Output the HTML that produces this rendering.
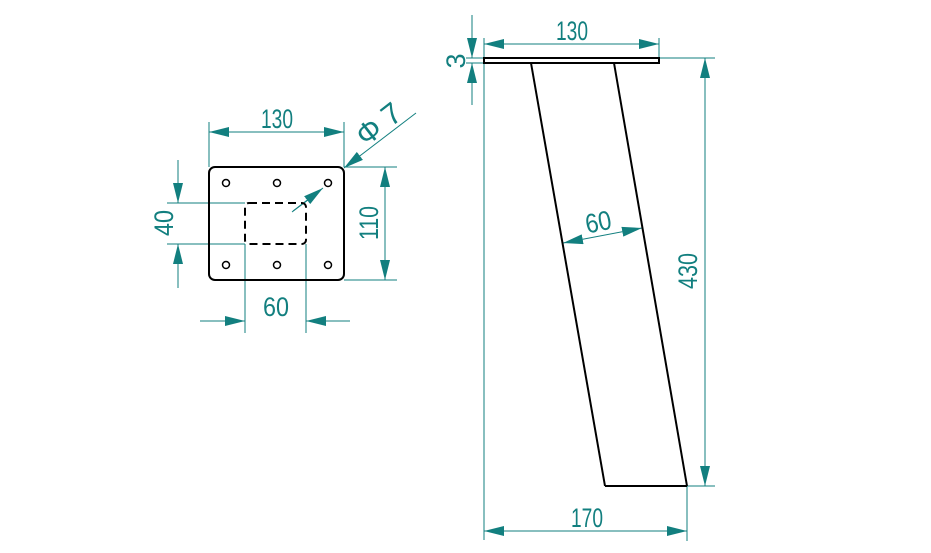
<!DOCTYPE html>
<html><head><meta charset="utf-8"><style>html,body{margin:0;padding:0;background:#fff}svg{display:block}</style></head><body>
<svg width="931" height="553" viewBox="0 0 931 553" xmlns="http://www.w3.org/2000/svg">
<defs>
<marker id="a" viewBox="0 0 20 10" refX="20" refY="5" markerWidth="20" markerHeight="10" markerUnits="userSpaceOnUse" orient="auto-start-reverse"><path d="M0,0 L20,5 L0,10 Z" fill="#127f7f"/></marker>
</defs>
<g stroke="#127f7f" stroke-width="1" fill="none">
<line x1="209" y1="122" x2="209" y2="167"/><line x1="344" y1="122" x2="344" y2="167"/>
<line x1="209" y1="132" x2="344" y2="132" marker-start="url(#a)" marker-end="url(#a)"/>
<line x1="344" y1="167" x2="397" y2="167"/><line x1="344" y1="280" x2="397" y2="280"/>
<line x1="385" y1="167" x2="385" y2="280" marker-start="url(#a)" marker-end="url(#a)"/>
<line x1="167" y1="203" x2="245" y2="203"/><line x1="167" y1="244" x2="245" y2="244"/>
<line x1="178" y1="160" x2="178" y2="203" marker-end="url(#a)"/><line x1="178" y1="288" x2="178" y2="244" marker-end="url(#a)"/>
<line x1="245" y1="244" x2="245" y2="333"/><line x1="306" y1="244" x2="306" y2="333"/>
<line x1="200" y1="321" x2="245" y2="321" marker-end="url(#a)"/><line x1="350" y1="321" x2="306" y2="321" marker-end="url(#a)"/>
<line x1="416" y1="113" x2="344" y2="168" marker-end="url(#a)"/><line x1="292" y1="212" x2="316" y2="194"/>
<line x1="293" y1="211" x2="323" y2="188" marker-end="url(#a)"/>
<line x1="484" y1="38" x2="484" y2="540"/><line x1="659" y1="38" x2="659" y2="58"/>
<line x1="484" y1="44" x2="659" y2="44" marker-start="url(#a)" marker-end="url(#a)"/>
<line x1="472" y1="15" x2="472" y2="58" marker-end="url(#a)"/><line x1="472" y1="105" x2="472" y2="63" marker-end="url(#a)"/>
<line x1="466" y1="58" x2="484" y2="58"/><line x1="466" y1="63" x2="484" y2="63"/>
<line x1="659" y1="58" x2="715" y2="58"/><line x1="687" y1="486" x2="715" y2="486"/>
<line x1="705" y1="58" x2="705" y2="486" marker-start="url(#a)" marker-end="url(#a)"/>
<line x1="687" y1="486" x2="687" y2="541"/>
<line x1="484" y1="531" x2="687" y2="531" marker-start="url(#a)" marker-end="url(#a)"/>
<line x1="563" y1="243" x2="642" y2="228" marker-start="url(#a)" marker-end="url(#a)"/>
</g>
<g stroke="#000" fill="none" stroke-width="2">
<rect x="209" y="167" width="135" height="113" rx="6"/>
<rect x="245" y="203" width="61" height="41" rx="4" stroke-dasharray="8,5"/>
<g stroke-width="1.5">
<circle cx="226" cy="183" r="3.5"/><circle cx="277" cy="183" r="3.5"/><circle cx="328" cy="183" r="3.5"/>
<circle cx="226" cy="265" r="3.5"/><circle cx="277" cy="265" r="3.5"/><circle cx="328" cy="265" r="3.5"/>
</g>
<rect x="484" y="58" width="175" height="5"/>
<line x1="531" y1="63" x2="605" y2="486"/><line x1="614" y1="63" x2="687" y2="486"/>
<line x1="605" y1="486" x2="687" y2="486"/>
</g>
<g fill="#127f7f" font-family="Liberation Sans, sans-serif" font-size="27" text-anchor="middle">
<text x="277" y="128" textLength="32" lengthAdjust="spacingAndGlyphs">130</text>
<text x="572" y="40" textLength="32" lengthAdjust="spacingAndGlyphs">130</text>
<text x="587" y="527" textLength="32" lengthAdjust="spacingAndGlyphs">170</text>
<text x="276" y="316" textLength="26" lengthAdjust="spacingAndGlyphs">60</text>
<text transform="translate(378,223) rotate(-90)" textLength="34" lengthAdjust="spacingAndGlyphs">110</text>
<text transform="translate(173,223) rotate(-90)" textLength="26" lengthAdjust="spacingAndGlyphs">40</text>
<text transform="translate(697,271) rotate(-90)" textLength="36" lengthAdjust="spacingAndGlyphs">430</text>
<text transform="translate(465,61) rotate(-90)">3</text>
<text transform="translate(600,231) rotate(-11)" textLength="26" lengthAdjust="spacingAndGlyphs">60</text>
<text transform="translate(385,132) rotate(-38)" font-size="30">Φ 7</text>
</g>
</svg>
</body></html>
